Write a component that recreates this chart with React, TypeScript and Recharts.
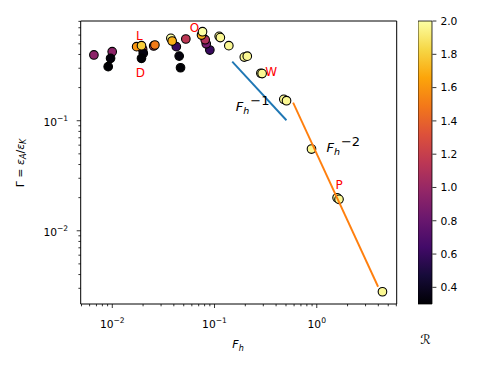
import React from 'react';
import { ScatterChart, Scatter, XAxis, YAxis, ReferenceArea, BarChart, Bar } from 'recharts';

// measured points: F_h, Gamma and the colour value R
const fhValues = [
  0.00661, 0.00998, 0.00962, 0.00912, 0.0198, 0.0201, 0.0193, 0.0173, 0.0193,
  0.0254, 0.0261, 0.0451, 0.0465, 0.0423, 0.0374, 0.0385, 0.0524, 0.09, 0.083,
  0.081, 0.0746, 0.0763, 0.111, 0.114, 0.138, 0.1955, 0.209, 0.284, 0.292,
  0.476, 0.506, 0.888, 1.58, 1.65, 4.39,
];
const gammaValues = [
  0.396, 0.424, 0.369, 0.31, 0.446, 0.41, 0.369, 0.471, 0.481,
  0.478, 0.488, 0.387, 0.303, 0.471, 0.561, 0.53, 0.553, 0.439, 0.5,
  0.545, 0.601, 0.644, 0.585, 0.57, 0.481, 0.379, 0.386, 0.27, 0.268,
  0.1565, 0.152, 0.0553, 0.01995, 0.0193, 0.00279,
];
const rValues = [
  0.95, 0.95, 0.32, 0.3, 1.15, 0.33, 0.3, 1.6, 1.8,
  1.2, 1.5, 0.33, 0.3, 0.6, 2.0, 1.7, 1.15, 0.6, 0.85,
  1.1, 1.7, 2.0, 1.97, 1.97, 1.97, 1.97, 1.97, 1.97, 1.97,
  1.97, 1.97, 1.97, 1.97, 1.97, 1.97,
];

// reference slopes
const blueFh = [0.149, 0.505];
const blueGamma = [0.344, 0.101];
const orangeFh = [0.587, 3.98];
const orangeGamma = [0.146, 0.0031];

const markLabels = ['L', 'O', 'D', 'W', 'P'];
const markFh = [0.0184, 0.0635, 0.0188, 0.359, 1.652];
const markGamma = [0.595, 0.697, 0.274, 0.28, 0.0258];

const slopeLabels = ['−1', '−2'];
const slopeFh = [0.1615, 1.244];
const slopeGamma = [0.1225, 0.0519];

const xTicks = [
  0.005, 0.006, 0.007, 0.008, 0.009, 0.01, 0.02, 0.03, 0.04, 0.05, 0.06, 0.07, 0.08, 0.09,
  0.1, 0.2, 0.3, 0.4, 0.5, 0.6, 0.7, 0.8, 0.9, 1, 2, 3, 4, 5, 6,
];
const yTicks = [
  0.003, 0.004, 0.005, 0.006, 0.007, 0.008, 0.009, 0.01, 0.02, 0.03, 0.04, 0.05, 0.06, 0.07,
  0.08, 0.09, 0.1, 0.2, 0.3, 0.4, 0.5, 0.6, 0.7, 0.8,
];
const majorTicks = [0.01, 0.1, 1];
const cbTicks = [0.4, 0.6, 0.8, 1.0, 1.2, 1.4, 1.6, 1.8, 2.0];

const X_DOMAIN: [number, number] = [0.00491, 6.05];
const Y_DOMAIN: [number, number] = [0.00216, 0.806];
const R_MIN = 0.3;
const R_MAX = 2.0;

const FONT = '"DejaVu Sans", sans-serif';

const INFERNO = [
  '#000004', '#160b39', '#420a68', '#6a176e', '#932667', '#bc3754',
  '#dd513a', '#f37819', '#fca50a', '#f6d746', '#fcffa4',
];

function hexToRgb(h: string) {
  return [1, 3, 5].map((i) => parseInt(h.slice(i, i + 2), 16));
}

function inferno(r: number) {
  const t = Math.min(1, Math.max(0, (r - R_MIN) / (R_MAX - R_MIN)));
  const p = t * (INFERNO.length - 1);
  const i = Math.min(INFERNO.length - 2, Math.floor(p));
  const f = p - i;
  const a = hexToRgb(INFERNO[i]);
  const b = hexToRgb(INFERNO[i + 1]);
  const c = a.map((v, k) => Math.round(v + (b[k] - v) * f));
  return `rgb(${c[0]},${c[1]},${c[2]})`;
}

const points = fhValues.map((x, i) => ({ x, y: gammaValues[i], r: rValues[i] }));
const blueLine = blueFh.map((x, i) => ({ x, y: blueGamma[i] }));
const orangeLine = orangeFh.map((x, i) => ({ x, y: orangeGamma[i] }));
const marks = markLabels.map((text, i) => ({ x: markFh[i], y: markGamma[i], text }));
const slopes = slopeLabels.map((text, i) => ({ x: slopeFh[i], y: slopeGamma[i], text }));

const isMajor = (v: number) => majorTicks.some((m) => Math.abs(m - v) < m * 1e-6);
const expOf = (v: number) => {
  const e = Math.round(Math.log10(v));
  return e < 0 ? `−${-e}` : `${e}`;
};

function XTick(props: any) {
  const { x, y, payload } = props;
  const v = payload.value;
  const major = isMajor(v);
  return (
    <g>
      <line x1={x} x2={x} y1={y} y2={y + (major ? 4 : 2.3)} stroke="#000" strokeWidth={0.8} />
      {major && (
        <text x={x} y={y + 23.5} textAnchor="middle" fontFamily={FONT} fontSize={10.7} fill="#000">
          10<tspan dy={-4.5} fontSize={7.6}>{expOf(v)}</tspan>
        </text>
      )}
    </g>
  );
}

function YTick(props: any) {
  const { x, y, payload } = props;
  const v = payload.value;
  const major = isMajor(v);
  return (
    <g>
      <line x1={x} x2={x - (major ? 4 : 2.3)} y1={y} y2={y} stroke="#000" strokeWidth={0.8} />
      {major && (
        <text x={x - 12.5} y={y + 5} textAnchor="end" fontFamily={FONT} fontSize={10.7} fill="#000">
          10<tspan dy={-4.5} fontSize={7.6}>{expOf(v)}</tspan>
        </text>
      )}
    </g>
  );
}

function CbTick(props: any) {
  const { x, y, payload } = props;
  return (
    <g>
      <line x1={x} x2={x + 4} y1={y} y2={y} stroke="#000" strokeWidth={0.8} />
      <text x={x + 8} y={y + 3.8} fontFamily={FONT} fontSize={10.7} fill="#000">
        {payload.value.toFixed(1)}
      </text>
    </g>
  );
}

const Dot = (props: any) => (
  <circle cx={props.cx} cy={props.cy} r={4.3} fill={inferno(props.payload.r)} stroke="#000" strokeWidth={1.1} />
);

const MarkText = (props: any) => (
  <text x={props.cx} y={props.cy} textAnchor="middle" dominantBaseline="central" fontFamily={FONT} fontSize={12} fill="#ff0000">
    {props.payload.text}
  </text>
);

const SlopeText = (props: any) => (
  <text x={props.cx} y={props.cy} fontFamily={FONT} fontSize={13} fill="#000">
    <tspan fontStyle="italic">F</tspan>
    <tspan fontStyle="italic" fontSize={9.5} dy={3}>h</tspan>
    <tspan dy={-9} dx={1}>{props.payload.text}</tspan>
  </text>
);

const Empty = () => <g />;

const W = 492;
const H = 370;
const PLOT_LEFT = 80.7;
const PLOT_RIGHT = 396.7;
const PLOT_TOP = 21;
const PLOT_BOTTOM = 304;
const XAXIS_H = 30;

export default function App() {
  return (
    <div style={{ position: 'absolute', left: 0, top: 0, width: W, height: H, background: '#fff' }}>
      <svg width={0} height={0} style={{ position: 'absolute' }}>
        <defs>
          <linearGradient id="infernoGrad" x1="0" y1="1" x2="0" y2="0">
            {INFERNO.map((c, i) => (
              <stop key={i} offset={i / (INFERNO.length - 1)} stopColor={c} />
            ))}
          </linearGradient>
        </defs>
      </svg>

      <div style={{ position: 'absolute', left: 0, top: 0 }}>
        <ScatterChart
          width={W}
          height={H}
          margin={{ top: PLOT_TOP, right: W - PLOT_RIGHT, bottom: H - PLOT_BOTTOM - XAXIS_H, left: 0 }}
        >
          <XAxis
            type="number"
            dataKey="x"
            scale="log"
            domain={X_DOMAIN}
            allowDataOverflow
            ticks={xTicks}
            interval={0}
            height={XAXIS_H}
            tickSize={0}
            tickMargin={0}
            tickLine={false}
            axisLine={false}
            tick={<XTick />}
          />
          <YAxis
            type="number"
            dataKey="y"
            scale="log"
            domain={Y_DOMAIN}
            allowDataOverflow
            ticks={yTicks}
            interval={0}
            width={PLOT_LEFT}
            tickSize={0}
            tickMargin={0}
            tickLine={false}
            axisLine={false}
            tick={<YTick />}
          />
          <ReferenceArea
            x1={X_DOMAIN[0]}
            x2={X_DOMAIN[1]}
            y1={Y_DOMAIN[0]}
            y2={Y_DOMAIN[1]}
            fill="none"
            stroke="#000"
            strokeWidth={1}
            ifOverflow="visible"
          />
          <Scatter data={points} shape={Dot} isAnimationActive={false} />
          <Scatter data={blueLine} shape={Empty} line={{ stroke: '#1f77b4', strokeWidth: 1.9 }} isAnimationActive={false} />
          <Scatter data={orangeLine} shape={Empty} line={{ stroke: '#ff7f0e', strokeWidth: 1.9 }} isAnimationActive={false} />
          <Scatter data={marks} shape={MarkText} isAnimationActive={false} />
          <Scatter data={slopes} shape={SlopeText} isAnimationActive={false} />
        </ScatterChart>
      </div>

      <div style={{ position: 'absolute', left: 418.3, top: 0 }}>
        <BarChart
          width={14.4 + 40}
          height={H}
          data={[{ name: 'R', range: [R_MIN, R_MAX] }]}
          margin={{ top: PLOT_TOP, right: 0, bottom: H - PLOT_BOTTOM, left: 0 }}
          barCategoryGap={0}
          barGap={0}
        >
          <XAxis dataKey="name" hide />
          <YAxis
            orientation="right"
            type="number"
            domain={[R_MIN, R_MAX]}
            ticks={cbTicks}
            interval={0}
            width={40}
            tickSize={0}
            tickMargin={0}
            tickLine={false}
            axisLine={false}
            tick={<CbTick />}
          />
          <Bar dataKey="range" fill="url(#infernoGrad)" stroke="#000" strokeWidth={0.8} isAnimationActive={false} />
        </BarChart>
      </div>

      <svg width={W} height={H} style={{ position: 'absolute', left: 0, top: 0, pointerEvents: 'none' }}>
        <text x={238} y={348} textAnchor="middle" fontFamily={FONT} fontSize={11} fill="#000">
          <tspan fontStyle="italic">F</tspan>
          <tspan fontStyle="italic" fontSize={8} dy={3}>h</tspan>
        </text>
        <text
          x={20}
          y={163}
          transform="rotate(-90 20 163)"
          textAnchor="middle"
          dominantBaseline="central"
          fontFamily={FONT}
          fontSize={11}
          fill="#000"
        >
          Γ = <tspan fontStyle="italic">ε</tspan>
          <tspan fontStyle="italic" fontSize={8} dy={2.5}>A</tspan>
          <tspan dy={-2.5}>/</tspan>
          <tspan fontStyle="italic">ε</tspan>
          <tspan fontStyle="italic" fontSize={8} dy={2.5}>K</tspan>
        </text>
        <text x={425.5} y={344} textAnchor="middle" fontFamily={FONT} fontSize={13} fontStyle="italic" fill="#000">
          ℛ
        </text>
      </svg>
    </div>
  );
}
